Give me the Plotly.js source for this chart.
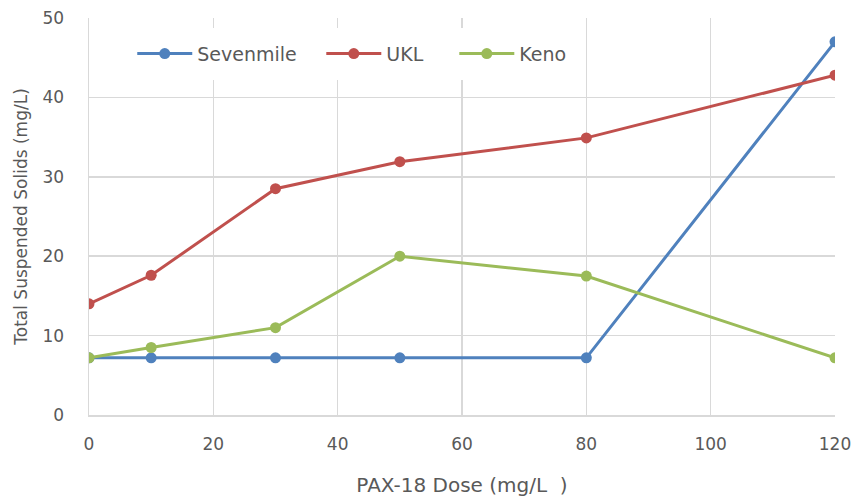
<!DOCTYPE html>
<html>
<head>
<meta charset="utf-8">
<script src="https://cdn.plot.ly/plotly-3.0.1.min.js"></script>
<style>
  html, body { margin: 0; padding: 0; background: #ffffff; }
  #chart { width: 854px; height: 502px; }
</style>
</head>
<body>
<div id="chart"></div>
<script>
// PAX-18 dose (mg/L)
const dose = [0, 10, 30, 50, 80, 120];

// Total suspended solids (mg/L) per site
const sevenmile = [7.2, 7.2, 7.2, 7.2, 7.2, 47.0];
const ukl       = [14.0, 17.6, 28.5, 31.9, 34.9, 42.8];
const keno      = [7.2, 8.5, 11.0, 20.0, 17.5, 7.2];

const seriesNames  = ['Sevenmile', 'UKL', 'Keno'];
const seriesColors = ['#4f81bd', '#c0504d', '#9bbb59'];

const xTicks = [0, 20, 40, 60, 80, 100, 120];
const yTicks = [0, 10, 20, 30, 40, 50];

const fontFamily = '"DejaVu Sans", sans-serif';
const textColor = '#595959';
const gridColor = '#d9d9d9';

// one legend box per series so each entry can sit at its own spot
const legendIds = ['legend', 'legend2', 'legend3'];
const legendX   = [0.0486, 0.302, 0.4803];

const seriesData = [sevenmile, ukl, keno];
const traces = seriesData.map((vals, i) => ({
  type: 'scatter',
  mode: 'lines+markers',
  name: seriesNames[i],
  legend: legendIds[i],
  x: dose,
  y: vals,
  line: { color: seriesColors[i], width: 3 },
  marker: { color: seriesColors[i], size: 11 }
}));

const layout = {
  width: 854,
  height: 502,
  margin: { l: 89, r: 19, t: 18, b: 87 },
  paper_bgcolor: '#ffffff',
  plot_bgcolor: '#ffffff',
  font: { family: fontFamily, color: textColor, size: 17 },
  showlegend: true,
  xaxis: {
    range: [0, 120],
    tickvals: xTicks,
    ticktext: xTicks.map(String),
    showgrid: true,
    gridcolor: gridColor,
    gridwidth: 1.5,
    zeroline: false,
    showline: true,
    linecolor: gridColor,
    linewidth: 1.5,
    ticks: 'outside',
    ticklen: 13,
    tickcolor: 'rgba(0,0,0,0)',
    tickfont: { size: 17, color: textColor },
    title: { text: 'PAX-18 Dose (mg/L  )', font: { size: 20, color: textColor }, standoff: 25 }
  },
  yaxis: {
    range: [0, 50],
    tickvals: yTicks,
    ticktext: yTicks.map(String),
    showgrid: true,
    gridcolor: gridColor,
    gridwidth: 1.5,
    zeroline: false,
    showline: true,
    linecolor: gridColor,
    linewidth: 1.5,
    ticks: 'outside',
    ticklen: 20,
    tickcolor: 'rgba(0,0,0,0)',
    tickfont: { size: 17, color: textColor },
    title: { text: 'Total Suspended Solids (mg/L)', font: { size: 17, color: textColor }, standoff: 10 }
  }
};

legendIds.forEach((id, i) => {
  layout[id] = {
    orientation: 'h',
    x: legendX[i],
    y: 0.91,
    xanchor: 'left',
    yanchor: 'middle',
    bgcolor: '#ffffff',
    bordercolor: '#ffffff',
    borderwidth: 7,
    font: { size: 19, color: textColor },
    itemwidth: 55,
    tracegroupgap: 0
  };
});

Plotly.newPlot('chart', traces, layout, { displayModeBar: false, staticPlot: true });
</script>
</body>
</html>
